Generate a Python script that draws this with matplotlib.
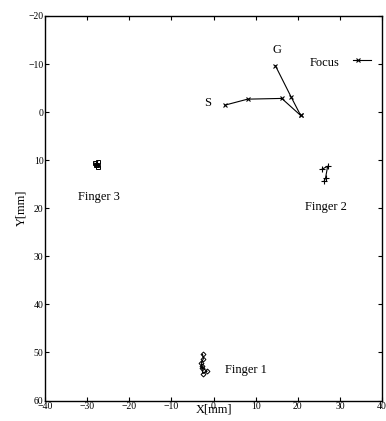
import matplotlib
matplotlib.use("Agg")
import matplotlib.pyplot as plt

# S path and G path meet at the same end point
s_x = [2.7, 8.1, 16.2, 20.7]
s_y = [-1.45, -2.7, -2.85, 0.7]
g_x = [14.7, 18.4, 20.7]
g_y = [-9.65, -3.2, 0.7]

focus_x = [33.0, 34.3, 37.5]
focus_y = [-10.8, -10.8, -10.8]

f1_x = [-2.6, -2.4, -2.9, -2.8, -2.55, -1.5, -2.7]
f1_y = [50.4, 51.3, 52.2, 52.9, 54.4, 53.9, 53.2]
f2_x = [25.7, 27.1, 26.6, 26.3]
f2_y = [11.9, 11.25, 13.7, 14.3]
f3_x = [-28.2, -27.6, -27.3, -27.9, -27.5]
f3_y = [10.6, 10.9, 11.4, 11.1, 10.3]

labels = [("S", -1.5, -1.8), ("G", 15.0, -13.0), ("Focus", 26.3, -10.2),
          ("Finger 3", -27.3, 17.6), ("Finger 2", 26.7, 19.7), ("Finger 1", 7.7, 53.75)]

plt.rcParams["font.family"] = "Liberation Serif"

fig = plt.figure(figsize=(3.86, 4.21), dpi=100)
ax = fig.add_axes([45 / 386, 1 - 400.5 / 421, 337 / 386, 384.5 / 421])

kw = dict(color="black", linewidth=0.8)
ax.plot(s_x, s_y, marker="x", markersize=3.5, markeredgewidth=0.8, **kw)
ax.plot(g_x, g_y, marker="x", markersize=3.5, markeredgewidth=0.8, **kw)
ax.plot(focus_x, focus_y, marker="x", markersize=3.5, markeredgewidth=0.8, markevery=[1], **kw)
ax.plot(f1_x, f1_y, marker="D", markersize=2.5, markerfacecolor="none", markeredgewidth=0.7, **kw)
ax.plot(f2_x, f2_y, marker="+", markersize=4, markeredgewidth=0.8, **kw)
ax.plot(f3_x, f3_y, marker="s", markersize=3.5, markerfacecolor="none", markeredgewidth=0.7, **kw)

for txt, x, y in labels:
    ax.text(x, y, txt, ha="center", va="center", fontsize=9)

ax.set_xlim(-40, 40)
ax.set_ylim(60, -20)
ax.set_xticks(range(-40, 41, 10))
ax.set_yticks(range(-20, 61, 10))
ax.tick_params(direction="in", length=3, width=0.8, labelsize=7, pad=1,
               top=True, right=True)
for sp in ax.spines.values():
    sp.set_linewidth(1.0)

ax.set_xlabel("X[mm]", fontsize=9, labelpad=-5)
ax.set_ylabel("Y[mm]", fontsize=9, labelpad=1)

fig.savefig("out.png", dpi=100)
